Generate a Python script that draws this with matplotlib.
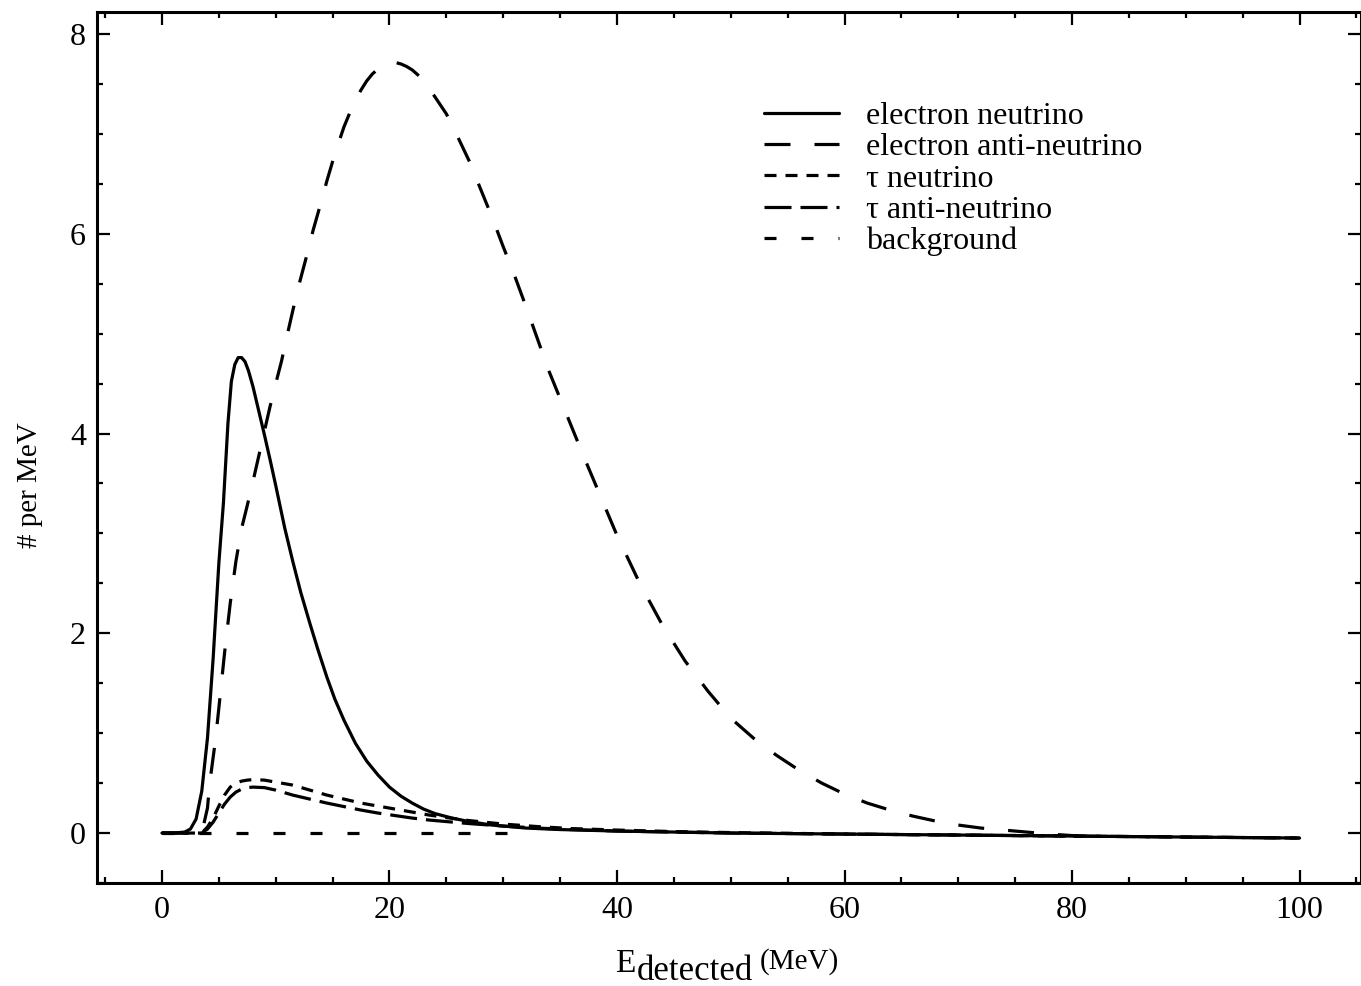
import matplotlib
matplotlib.use("Agg")
import matplotlib.pyplot as plt
from matplotlib.ticker import MultipleLocator

# ---------------- data ----------------
e_nu_x = [0, 1, 2, 2.5, 3.0, 3.5, 4.0, 4.5, 5.0, 5.4, 5.8, 6.1, 6.4, 6.7, 7.0, 7.3,
          7.6, 8.0, 8.5, 9.0, 9.5, 10, 10.8, 11.5, 12.2, 13, 13.7, 14.5, 15.2, 16,
          17, 18, 19, 20, 21, 22, 23, 24, 25.5, 27, 29, 32, 35, 40, 50, 60, 70, 80,
          90, 100]
e_nu_y = [0, 0, 0.01, 0.04, 0.14, 0.42, 0.95, 1.75, 2.7, 3.3, 4.1, 4.52, 4.69, 4.76,
          4.76, 4.72, 4.63, 4.47, 4.23, 3.99, 3.74, 3.48, 3.05, 2.72, 2.41, 2.1, 1.84,
          1.56, 1.34, 1.13, 0.9, 0.72, 0.58, 0.46, 0.37, 0.3, 0.24, 0.195, 0.15,
          0.115, 0.08, 0.05, 0.035, 0.02, 0.0, -0.01, -0.02, -0.03, -0.04, -0.05]

e_anu_x = [0, 3.5, 4.0, 4.2, 4.7, 5.0, 5.5, 6.0, 6.5, 7.0, 7.5, 8.0, 8.5, 9.0, 9.5,
           10, 10.5, 11, 11.5, 12, 12.7, 13.3, 14, 14.5, 15.2, 16, 16.8, 17.5, 18,
           18.5, 19, 19.5, 20, 20.5, 21, 21.5, 22, 22.5, 23, 24, 25, 26, 27, 28, 29,
           30, 31, 32, 33, 34, 35, 36, 37, 38, 39, 40, 42, 44, 46, 48, 50, 52, 54,
           56, 58, 60, 62, 64, 66, 68, 70, 72, 75, 78, 82]
e_anu_y = [0, 0, 0.25, 0.5, 0.93, 1.25, 1.8, 2.3, 2.72, 3.05, 3.28, 3.52, 3.77, 4.02,
           4.27, 4.5, 4.72, 4.98, 5.23, 5.47, 5.77, 6.04, 6.32, 6.53, 6.8, 7.07, 7.29,
           7.44, 7.53, 7.6, 7.65, 7.69, 7.71, 7.715, 7.7, 7.675, 7.64, 7.59, 7.53,
           7.37, 7.2, 6.97, 6.73, 6.45, 6.17, 5.87, 5.58, 5.27, 4.95, 4.63, 4.35,
           4.07, 3.79, 3.52, 3.25, 2.98, 2.5, 2.08, 1.72, 1.42, 1.15, 0.95, 0.78,
           0.63, 0.5, 0.39, 0.3, 0.23, 0.17, 0.12, 0.08, 0.05, 0.02, -0.01, -0.04]

tau_nu_x = [0, 3.5, 4.0, 4.5, 5.0, 5.5, 6.0, 6.5, 7.0, 7.5, 8.0, 9.0, 10.0, 11.5, 13,
            14.5, 16, 17.5, 19, 20.5, 22, 23.5, 25, 27, 30, 33, 36, 40, 45, 50, 60,
            70, 80, 90, 100]
tau_nu_y = [0, 0, 0.06, 0.15, 0.27, 0.38, 0.46, 0.5, 0.52, 0.53, 0.535, 0.53, 0.51,
            0.48, 0.43, 0.38, 0.34, 0.30, 0.27, 0.24, 0.21, 0.18, 0.155, 0.125, 0.09,
            0.065, 0.045, 0.03, 0.015, 0.005, -0.01, -0.02, -0.03, -0.04, -0.05]

tau_anu_x = [0, 3.5, 4.0, 4.5, 5.0, 5.5, 6.0, 6.5, 7.0, 7.5, 8.0, 9.0, 10, 11.5, 13,
             14.5, 16, 17.5, 19, 20.5, 22, 23.5, 25, 27, 30, 33, 36, 40, 45, 50, 60,
             70, 80, 90, 100]
tau_anu_y = [0, 0, 0.04, 0.11, 0.2, 0.29, 0.36, 0.41, 0.44, 0.455, 0.46, 0.455, 0.43,
             0.38, 0.34, 0.30, 0.265, 0.23, 0.20, 0.175, 0.15, 0.13, 0.115, 0.095,
             0.07, 0.05, 0.035, 0.02, 0.01, 0.0, -0.01, -0.02, -0.03, -0.04, -0.05]

bg_x = [0, 31]
bg_y = [0, 0]

labels = ["electron neutrino", "electron anti-neutrino", "\u03c4 neutrino",
          "\u03c4 anti-neutrino", "background"]

x_ticks = [0, 20, 40, 60, 80, 100]
y_ticks = [0, 2, 4, 6, 8]

# ---------------- style ----------------
plt.rcParams['font.family'] = ['Liberation Serif', 'DejaVu Serif']
plt.rcParams['lines.scale_dashes'] = False
plt.rcParams['lines.solid_capstyle'] = 'round'
plt.rcParams['lines.solid_joinstyle'] = 'round'

fig = plt.figure(figsize=(13.61, 9.86), dpi=100)
ax = fig.add_axes([97 / 1361, 1 - 883 / 986, (1361 - 97) / 1361, (883 - 12) / 986])

lw = 2.3
px = 0.72  # points per pixel
ax.plot(e_nu_x, e_nu_y, color='black', lw=lw, linestyle='-', label=labels[0])
ax.plot(e_anu_x, e_anu_y, color='black', lw=lw,
        dashes=(26 * px, 24 * px), label=labels[1])
ax.plot(tau_nu_x, tau_nu_y, color='black', lw=lw,
        dashes=(12 * px, 9 * px), label=labels[2])
ax.plot(tau_anu_x, tau_anu_y, color='black', lw=lw,
        dashes=(27 * px, 9 * px), label=labels[3])
ax.plot(bg_x, bg_y, color='black', lw=lw,
        dashes=(12 * px, 25 * px), label=labels[4])

ax.set_xlim(-5.71, 105.4)
ax.set_ylim(-0.50, 8.22)

ax.set_xticks(x_ticks)
ax.set_yticks(y_ticks)
ax.xaxis.set_minor_locator(MultipleLocator(5))
ax.yaxis.set_minor_locator(MultipleLocator(0.5))
ax.tick_params(which='both', direction='in', top=True, right=True, width=1.6,
               color='black')
ax.tick_params(which='major', length=9.5, labelsize=23)
ax.tick_params(which='minor', length=4)
ax.tick_params(axis='x', which='major', pad=9)
ax.tick_params(axis='y', which='major', pad=8)
for s in ax.spines.values():
    s.set_linewidth(2.2)

ax.set_ylabel("# per MeV", fontsize=21, va='center')
ax.yaxis.set_label_coords(-0.053, 0.457)

# x label: E with "detected" subscript and smaller "(MeV)"
tE = fig.text(615 / 1361, 1 - 972 / 986, "E", fontsize=24, ha='left', va='baseline')
tD = fig.text(637 / 1361, 1 - 980 / 986, "detected", fontsize=25, ha='left',
              va='baseline')
fig.canvas.draw()
bb = tD.get_window_extent()
tM = fig.text((bb.x1 + 7) / 1361, 1 - 969 / 986, "(MeV)", fontsize=21, ha='left',
              va='baseline')

leg = ax.legend(loc='upper left', bbox_to_anchor=(0.528, 0.897), frameon=False,
                fontsize=23, handlelength=75 / 32.0, handletextpad=0.85,
                labelspacing=0.06, borderpad=0, borderaxespad=0)

fig.savefig("out.png", dpi=100)
